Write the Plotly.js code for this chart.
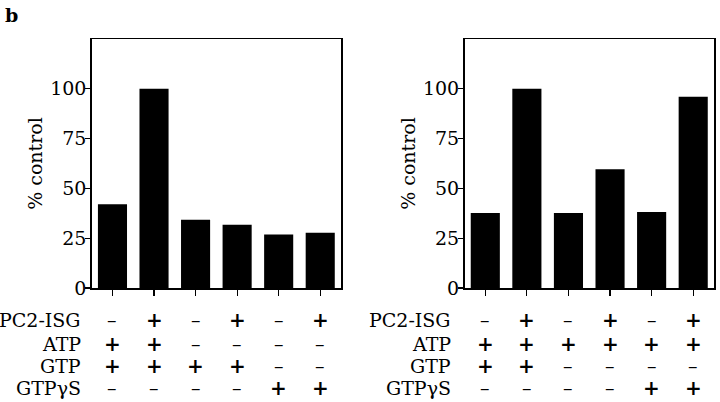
<!DOCTYPE html>
<html>
<head>
<meta charset="utf-8">
<script src="https://cdn.plot.ly/plotly-3.0.1.min.js"></script>
<style>html,body{margin:0;padding:0;background:#fff;}#chart{width:720px;height:402px;}</style>
</head>
<body>
<div id="chart"></div>
<script>
// ---- data ----
const lanes = [0, 1, 2, 3, 4, 5];
const leftValues = [42, 100, 34.3, 31.8, 26.9, 27.7];
const rightValues = [37.7, 100, 37.7, 59.6, 38.1, 96.0];
const yTicks = [0, 25, 50, 75, 100];
const rowNames = ['PC2-ISG', 'ATP', 'GTP', 'GTP\u03B3S'];
const leftPC2 = ['\u2013', '+', '\u2013', '+', '\u2013', '+'];
const leftATP = ['+', '+', '\u2013', '\u2013', '\u2013', '\u2013'];
const leftGTP = ['+', '+', '+', '+', '\u2013', '\u2013'];
const leftGTPgS = ['\u2013', '\u2013', '\u2013', '\u2013', '+', '+'];
const rightPC2 = ['\u2013', '+', '\u2013', '+', '\u2013', '+'];
const rightATP = ['+', '+', '+', '+', '+', '+'];
const rightGTP = ['+', '+', '\u2013', '\u2013', '\u2013', '\u2013'];
const rightGTPgS = ['\u2013', '\u2013', '\u2013', '\u2013', '+', '+'];
const yTitle = '% control';
const panelLabel = 'b';

// ---- layout helpers ----
const W = 720, H = 402;
const FONT = 'DejaVu Serif';
const FS = 19;
const rowY = [320, 343.5, 365.5, 387.5]; // pixel centers of condition rows
const py = v => (H - v) / H;
const px = v => v / W;

const traces = [
  {type: 'bar', x: lanes, y: leftValues, width: 0.7, marker: {color: '#000'}, xaxis: 'x', yaxis: 'y', hoverinfo: 'none'},
  {type: 'bar', x: lanes, y: rightValues, width: 0.7, marker: {color: '#000'}, xaxis: 'x2', yaxis: 'y2', hoverinfo: 'none'}
];

function xAxis(domain, anchor) {
  return {domain: domain, anchor: anchor, range: [-0.5, 5.5], tickvals: lanes, showticklabels: false,
    ticks: 'outside', ticklen: 6, tickwidth: 1.2, tickcolor: '#000',
    showline: true, mirror: true, linecolor: '#000', linewidth: 1.5, showgrid: false, zeroline: false, fixedrange: true};
}
function yAxis(anchor) {
  return {domain: [py(288), py(39)], anchor: anchor, range: [0, 125], tickvals: yTicks,
    ticks: 'outside', ticklen: 5, tickwidth: 1.2, tickcolor: '#000', ticklabelstandoff: -5,
    tickfont: {family: FONT, size: FS, color: '#000'},
    title: {text: yTitle, font: {family: FONT, size: FS, color: '#000'}, standoff: 2},
    showline: true, mirror: true, linecolor: '#000', linewidth: 1.5, showgrid: false, zeroline: false, fixedrange: true};
}

const annotations = [];
annotations.push({text: panelLabel, xref: 'paper', yref: 'paper', x: px(3), y: py(2), xanchor: 'left', yanchor: 'top',
  showarrow: false, font: {family: FONT, size: 19, color: '#000', weight: 'bold'}});

function addTable(xref, nameX, rows) {
  rows.forEach((signs, r) => {
    annotations.push({text: rowNames[r], xref: 'paper', yref: 'paper', x: px(nameX), y: py(rowY[r]),
      xanchor: 'right', yanchor: 'middle', showarrow: false, font: {family: FONT, size: FS, color: '#000'}});
    signs.forEach((s, i) => {
      const plus = s === '+';
      annotations.push({text: s, xref: xref, yref: 'paper', x: lanes[i], y: py(rowY[r]),
        xanchor: 'center', yanchor: 'middle', showarrow: false,
        font: {family: FONT, size: plus ? 20 : FS, color: '#000', weight: plus ? 'bold' : 'normal'}});
    });
  });
}
addTable('x', 83, [leftPC2, leftATP, leftGTP, leftGTPgS]);
addTable('x2', 453, [rightPC2, rightATP, rightGTP, rightGTPgS]);

const layout = {
  width: W, height: H, margin: {l: 0, r: 0, t: 0, b: 0},
  paper_bgcolor: '#fff', plot_bgcolor: '#fff', showlegend: false,
  font: {family: FONT, size: FS, color: '#000'},
  xaxis: xAxis([px(91.7), px(341)], 'y'),
  yaxis: yAxis('x'),
  xaxis2: xAxis([px(464.5), px(714)], 'y2'),
  yaxis2: yAxis('x2'),
  annotations: annotations,
  bargap: 0.3
};

Plotly.newPlot('chart', traces, layout, {displayModeBar: false, staticPlot: true});
</script>
</body>
</html>
